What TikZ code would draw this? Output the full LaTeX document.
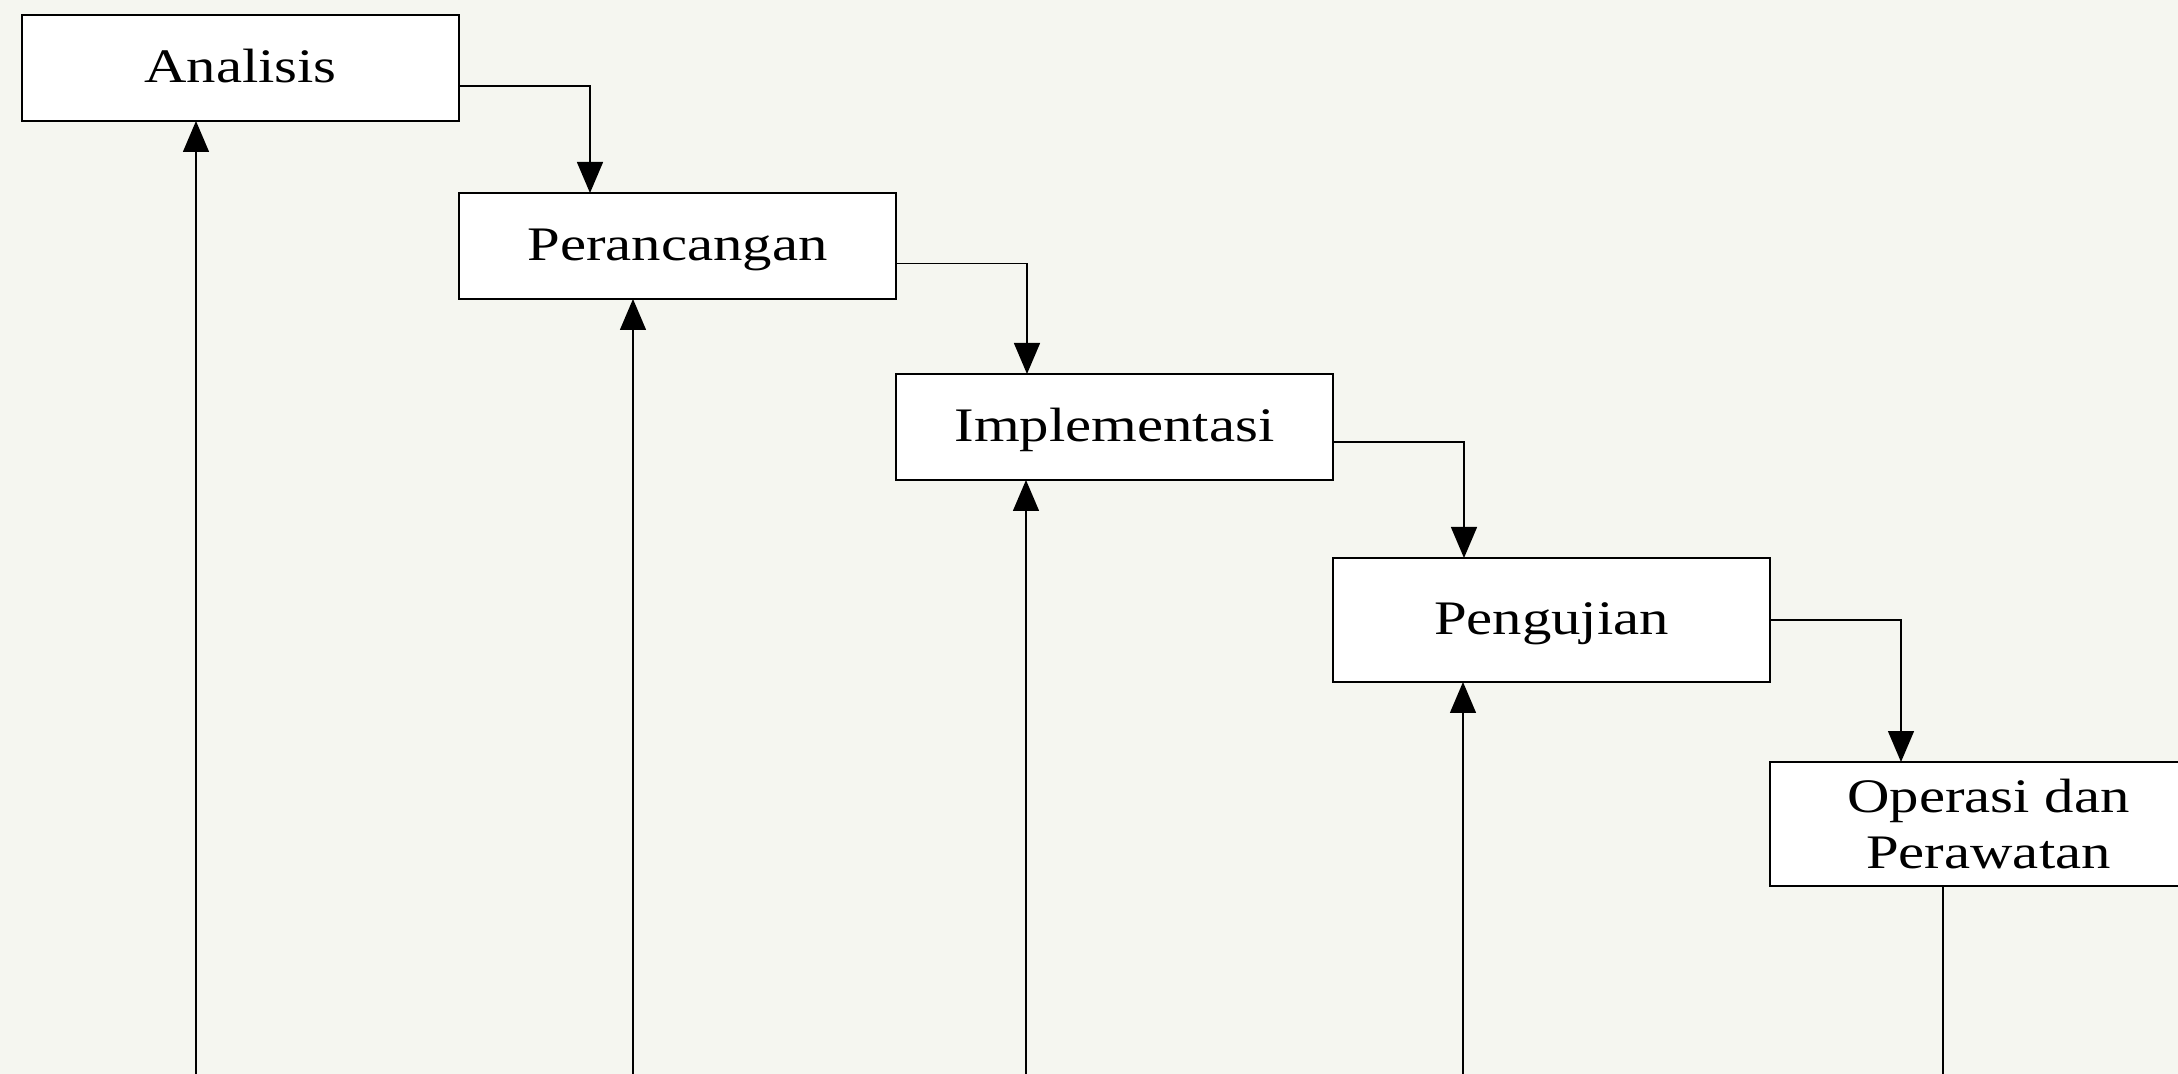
\documentclass[tikz,border=0pt]{standalone}
\usepackage{fontspec}
\setmainfont{Liberation Serif}[FakeStretch=1.22]
\usepackage{tikz}
\usetikzlibrary{positioning,arrows.meta}
\definecolor{paper}{RGB}{245,246,240}
\tikzset{
  stage/.style={rectangle, draw, fill=white, line width=0.5pt, minimum width=4.37cm,
                minimum height=1.06cm, inner sep=0pt, outer sep=0pt, align=center,
                font=\fontsize{13.7}{15.9}\selectfont},
  single/.style={text height=0.8em, text depth=0pt},
  tall/.style={minimum height=1.24cm},
  flow/.style={-{Triangle[length=3.1mm,width=2.6mm]}, line width=0.4pt},
  feedback/.style={-{Triangle[length=3.1mm,width=2.6mm]}, line width=0.4pt},
}

\begin{document}
\begin{tikzpicture}
  \fill[paper] (0,0) rectangle (21.78,-10.74);
  \useasboundingbox (0,0) rectangle (21.78,-10.74);
  \coordinate (base) at (0,-10.74);

  \node[stage, single, anchor=north west] (analisis) at (0.22,-0.15) {Analisis};
  \node[stage, single] (perancangan) [below right=0.72cm and 0cm of analisis] {Perancangan};
  \node[stage, single] (implementasi) [below right=0.75cm and 0cm of perancangan] {Implementasi};
  \node[stage, single, tall] (pengujian) [below right=0.78cm and 0cm of implementasi] {Pengujian};
  \node[stage, tall] (operasi) [below right=0.80cm and 0cm of pengujian] {Operasi dan\\Perawatan};

  % forward steps
  \draw[flow] ([yshift=-1.8mm]analisis.east) -| ([xshift=1.31cm]perancangan.north west);
  \draw[flow] ([yshift=-1.75mm]perancangan.east) -| ([xshift=1.31cm]implementasi.north west);
  \draw[flow] ([yshift=-1.5mm]implementasi.east) -| ([xshift=1.31cm]pengujian.north west);
  \draw[flow] (pengujian.east) -| ([xshift=1.31cm]operasi.north west);

  % feedback lines
  \coordinate (fb1) at ([xshift=1.74cm]analisis.south west);
  \coordinate (fb2) at ([xshift=1.74cm]perancangan.south west);
  \coordinate (fb3) at ([xshift=1.30cm]implementasi.south west);
  \coordinate (fb4) at ([xshift=1.30cm]pengujian.south west);
  \coordinate (fb5) at ([xshift=1.73cm]operasi.south west);
  \draw[feedback] (fb1 |- base) -- (fb1);
  \draw[feedback] (fb2 |- base) -- (fb2);
  \draw[feedback] (fb3 |- base) -- (fb3);
  \draw[feedback] (fb4 |- base) -- (fb4);
  \draw[line width=0.4pt] (fb5) -- (fb5 |- base);

\end{tikzpicture}
\end{document}
